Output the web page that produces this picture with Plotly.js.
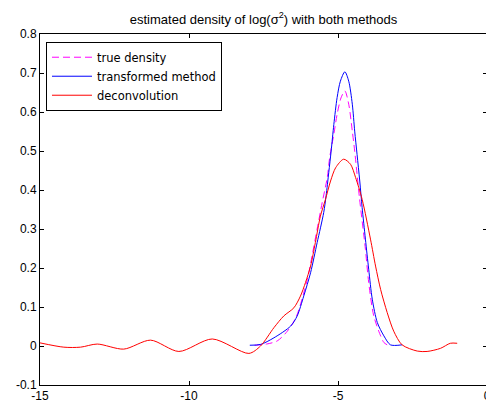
<!DOCTYPE html>
<html>
<head>
<meta charset="utf-8">
<script src="https://cdn.plot.ly/plotly-3.0.1.min.js"></script>
<style>
html,body{margin:0;padding:0;overflow:hidden;background:#fff;}
#chart{width:488px;height:408px;}
</style>
</head>
<body>
<div id="chart"></div>
<script>
// true density
var trueX = [-7.8, -7.4, -7.04, -6.7, -6.4, -6.03, -5.87, -5.70, -5.53, -5.36, -5.28, -5.14, -5.03, -4.9, -4.77, -4.64, -4.52, -4.44, -4.36, -4.28, -4.08, -3.97, -3.80, -3.57, -3.46, -3.35];
var trueY = [0.002, 0.005, 0.013, 0.038, 0.075, 0.171, 0.231, 0.30, 0.368, 0.432, 0.483, 0.543, 0.594, 0.636, 0.654, 0.620, 0.551, 0.50, 0.44, 0.38, 0.248, 0.163, 0.077, 0.026, 0.009, 0.003];
// transformed method
var transX = [-7.96, -7.6, -7.15, -6.59, -6.37, -6.15, -5.92, -5.70, -5.48, -5.40, -5.31, -5.23, -5.14, -5.03, -4.92, -4.77, -4.64, -4.52, -4.44, -4.36, -4.27, -4.19, -4.08, -3.97, -3.85, -3.68, -3.46, -3.24, -2.85];
var transY = [0.002, 0.004, 0.021, 0.051, 0.077, 0.128, 0.188, 0.265, 0.342, 0.385, 0.445, 0.500, 0.568, 0.637, 0.679, 0.703, 0.679, 0.620, 0.551, 0.491, 0.423, 0.355, 0.274, 0.197, 0.12, 0.06, 0.026, 0.003, 0.003];
// deconvolution
var deconX = [-15, -14.2, -13.64, -13.08, -12.19, -11.29, -10.34, -9.22, -7.99, -7.6, -7.15, -6.82, -6.48, -6.26, -6.09, -5.92, -5.76, -5.59, -5.42, -5.25, -5.08, -4.81, -4.58, -4.41, -4.19, -3.91, -3.74, -3.57, -3.35, -3.13, -2.85, -2.34, -2.01, -1.56, -1.23, -1.0];
var deconY = [0.008, -0.003, -0.003, 0.005, -0.008, 0.015, -0.014, 0.018, -0.019, 0.0, 0.047, 0.077, 0.098, 0.128, 0.163, 0.205, 0.265, 0.333, 0.376, 0.423, 0.457, 0.479, 0.466, 0.432, 0.376, 0.274, 0.205, 0.145, 0.086, 0.038, 0.003, -0.013, -0.014, -0.006, 0.007, 0.007];

var seriesNames = ['true density', 'transformed method', 'deconvolution'];
var xTickVals = [-15, -10, -5, 0];
var xTickText = ['-15', '-10', '-5', '0'];
var yTickVals = [-0.1, 0, 0.1, 0.2, 0.3, 0.4, 0.5, 0.6, 0.7, 0.8];
var yTickText = ['-0.1', '0', '0.1', '0.2', '0.3', '0.4', '0.5', '0.6', '0.7', '0.8'];
var titleText = 'estimated density of log(σ<sup>2</sup>) with both methods';

var traces = [
  {x: trueX, y: trueY, name: seriesNames[0], type: 'scatter', mode: 'lines',
   line: {color: '#ff00ff', width: 1, dash: '7px,4px', shape: 'spline', smoothing: 0.8}},
  {x: transX, y: transY, name: seriesNames[1], type: 'scatter', mode: 'lines',
   line: {color: '#0000ff', width: 1, shape: 'spline', smoothing: 0.8}},
  {x: deconX, y: deconY, name: seriesNames[2], type: 'scatter', mode: 'lines',
   line: {color: '#ff0000', width: 1, shape: 'spline', smoothing: 0.8}}
];

var axisCommon = {
  showline: true, linecolor: '#000', linewidth: 1, mirror: 'ticks',
  ticks: 'inside', ticklen: 4, tickcolor: '#000', tickwidth: 1,
  showgrid: false, zeroline: false, ticklabeloverflow: 'allow',
  tickfont: {family: 'Arial, Liberation Sans, sans-serif', size: 12, color: '#000'}
};

var layout = {
  width: 488, height: 408,
  margin: {l: 40, r: 1, t: 34, b: 23, pad: 0},
  paper_bgcolor: '#fff', plot_bgcolor: '#fff',
  showlegend: true,
  title: {text: titleText, x: 0.54, xanchor: 'center', y: 0.953, yanchor: 'middle', yref: 'container',
          font: {family: 'Arial, Liberation Sans, sans-serif', size: 13, color: '#000'}},
  xaxis: Object.assign({}, axisCommon, {range: [-15, 0], tickmode: 'array', tickvals: xTickVals, ticktext: xTickText}),
  yaxis: Object.assign({}, axisCommon, {range: [-0.1, 0.8], tickmode: 'array', tickvals: yTickVals, ticktext: yTickText}),
  legend: {x: 0.0134, y: 0.978, xanchor: 'left', yanchor: 'top', bgcolor: '#fff',
           bordercolor: '#000', borderwidth: 1, itemwidth: 40,
           font: {family: 'DejaVu Sans, sans-serif', size: 11.5, color: '#000'}}
};

Plotly.newPlot('chart', traces, layout, {staticPlot: true, displayModeBar: false});
</script>
</body>
</html>
